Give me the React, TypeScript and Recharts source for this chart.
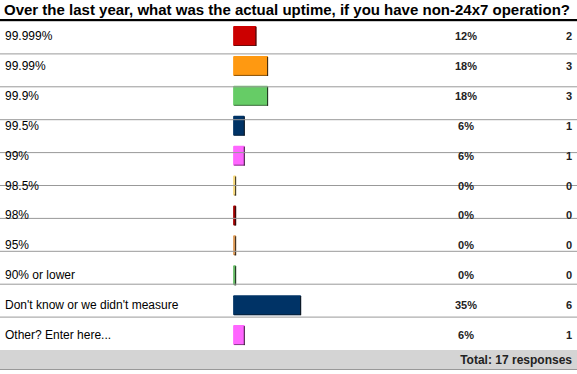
import { BarChart, Bar, XAxis, YAxis, Cell, LabelList, ReferenceLine } from 'recharts'

const answers = [
  '99.999%',
  '99.99%',
  '99.9%',
  '99.5%',
  '99%',
  '98.5%',
  '98%',
  '95%',
  '90% or lower',
  "Don't know or we didn't measure",
  'Other? Enter here...',
]
const percents = [12, 18, 18, 6, 6, 0, 0, 0, 0, 35, 6]
const counts = [2, 3, 3, 1, 1, 0, 0, 0, 0, 6, 1]
const barColors = [
  '#cc0000',
  '#ff9911',
  '#66cc66',
  '#003366',
  '#ff66ff',
  '#f5d77a',
  '#a00000',
  '#dd9955',
  '#66bb66',
  '#003366',
  '#ff66ff',
]
const totalResponses = 17

const data = answers.map((label, i) => ({
  label,
  pct: percents[i],
  count: counts[i],
}))

const rowBoundaries = answers.map((_, i) => i + 1)

const FONT = 'Arial, "Liberation Sans", sans-serif'

function BarShape(props: any) {
  const { x, y, width, height, fill } = props
  const w = Math.max(width, 3)
  return (
    <g>
      <rect x={x} y={y} width={w} height={height} fill={fill} rx={1} />
      <rect x={x + w - 1} y={y + 1} width={1} height={height - 1} fill="#111" opacity={0.85} />
      <rect x={x + 1} y={y + height - 1} width={w - 1} height={1} fill="#111" opacity={0.5} />
    </g>
  )
}

function AnswerLabel(props: any) {
  const { y, height, value } = props
  return (
    <text x={5} y={y + height / 2 + 4} fontSize={12} fontFamily={FONT} fill="#000">
      {value}
    </text>
  )
}

function PercentLabel(props: any) {
  const { y, height, value } = props
  return (
    <text x={466} y={y + height / 2 + 4} fontSize={11} fontWeight="bold" fontFamily={FONT} fill="#222" textAnchor="middle">
      {`${value}%`}
    </text>
  )
}

function CountLabel(props: any) {
  const { y, height, value } = props
  return (
    <text x={572} y={y + height / 2 + 4} fontSize={11} fontWeight="bold" fontFamily={FONT} fill="#222" textAnchor="end">
      {value}
    </text>
  )
}

export default function App() {
  return (
    <div
      style={{
        position: 'absolute',
        left: 0,
        top: 0,
        width: 577,
        height: 374,
        background: '#fff',
        fontFamily: FONT,
      }}
    >
      <div
        style={{
          height: 19,
          lineHeight: '19px',
          paddingLeft: 4,
          fontSize: 15,
          fontWeight: 'bold',
          color: '#000',
          borderBottom: '2px solid #000',
          whiteSpace: 'nowrap',
        }}
      >
        Over the last year, what was the actual uptime, if you have non-24x7 operation?
      </div>
      <BarChart
        width={577}
        height={329}
        data={data}
        layout="vertical"
        margin={{ top: 0, right: 0, left: 0, bottom: 0 }}
        barCategoryGap={5}
      >
        <XAxis type="number" domain={[-120, 177]} hide allowDataOverflow />
        <YAxis yAxisId="cat" type="category" dataKey="label" hide />
        <YAxis yAxisId="rows" type="number" domain={[0, answers.length]} reversed hide />
        {rowBoundaries.map((b) => (
          <ReferenceLine key={b} yAxisId="rows" y={b} stroke="#999" strokeWidth={1} />
        ))}
        <Bar
          yAxisId="cat"
          dataKey="pct"
          barSize={20}
          minPointSize={3}
          shape={<BarShape />}
          isAnimationActive={false}
        >
          {data.map((d, i) => (
            <Cell key={d.label} fill={barColors[i]} />
          ))}
          <LabelList dataKey="label" content={<AnswerLabel />} />
          <LabelList dataKey="pct" content={<PercentLabel />} />
          <LabelList dataKey="count" content={<CountLabel />} />
        </Bar>
      </BarChart>
      <div
        style={{
          height: 19,
          lineHeight: '21px',
          background: '#d4d4d4',
          borderBottom: '1px solid #999',
          textAlign: 'right',
          paddingRight: 5,
          fontSize: 12,
          fontWeight: 'bold',
          color: '#222',
        }}
      >
        Total: {totalResponses} responses
      </div>
    </div>
  )
}
